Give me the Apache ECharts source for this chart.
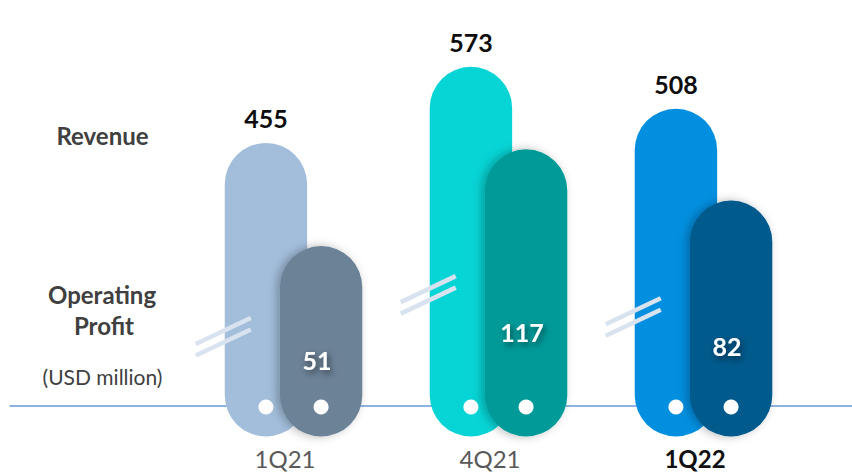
<!DOCTYPE html>
<html>
<head>
<meta charset="utf-8">
<script src="https://cdn.jsdelivr.net/npm/echarts@6/dist/echarts.min.js"></script>
<style>
  html, body { margin: 0; padding: 0; background: #ffffff; }
  #chart { width: 852px; height: 475px; }
</style>
</head>
<body>
<div id="chart"></div>
<script>
// Quarterly results, USD million
const quarters = ['1Q21', '4Q21', '1Q22'];
const revenue = [455, 573, 508];
const operatingProfit = [51, 117, 82];

// Palette per quarter: [revenue pill, operating-profit pill]
const revenuePalette = ['#a3bedb', '#07d4d5', '#028fe0'];
const profitPalette = ['#6c8297', '#069a98', '#015a8c'];

const FONT = 'Lato, "Open Sans", sans-serif';
const BAR_W = 0.402;     // pill width as share of the category band
const REV_SHIFT = -0.093; // revenue pill offset from band centre
const OP_SHIFT = 0.176;   // profit pill offset from band centre
const BASE_LIFT = 30.5;   // visible baseline sits this far above pill bottoms

function pillGeometry(params, api, shift) {
  const cs = params.coordSys;
  const idx = api.value(0);
  const val = api.value(1);
  const band = api.size([1, 0])[0];
  const pt = api.coord([idx, val]);
  const w = band * BAR_W;
  const cx = pt[0] + band * shift;
  const bottom = cs.y + cs.height;
  return { idx, val, band, w, cx, top: pt[1], bottom, base: bottom - BASE_LIFT };
}

function pillShape(g) {
  return {
    x: g.cx - g.w / 2,
    y: g.top,
    width: g.w,
    height: g.bottom - g.top,
    r: g.w / 2
  };
}

function renderRevenue(params, api) {
  const g = pillGeometry(params, api, REV_SHIFT);
  return {
    type: 'group',
    children: [
      {
        type: 'rect',
        shape: pillShape(g),
        style: { fill: revenuePalette[g.idx] }
      },
      {
        type: 'circle',
        shape: { cx: g.cx, cy: g.bottom - 29.5, r: 7.5 },
        style: { fill: '#ffffff' }
      },
      {
        type: 'text',
        style: {
          text: String(g.val),
          x: g.cx,
          y: g.top - 25,
          align: 'center',
          verticalAlign: 'middle',
          fill: '#0d0d0d',
          font: 'bold 25px ' + FONT
        }
      }
    ]
  };
}

function renderProfit(params, api) {
  const g = pillGeometry(params, api, OP_SHIFT);
  // axis-break marks across the left edge of the revenue pill
  const revLeft = g.cx - g.band * (OP_SHIFT - REV_SHIFT) - g.w / 2;
  const mid = g.top + 0.567 * (g.base - g.top);
  const slash = (m) => ({
    type: 'line',
    shape: { x1: revLeft - 29, y1: m + 13, x2: revLeft + 26, y2: m - 13 },
    style: { stroke: '#d9e3f0', lineWidth: 4.5 }
  });
  return {
    type: 'group',
    children: [
      {
        type: 'rect',
        shape: pillShape(g),
        style: {
          fill: profitPalette[g.idx],
          shadowColor: 'rgba(0,0,0,0.28)',
          shadowBlur: 10,
          shadowOffsetX: -3,
          shadowOffsetY: 0
        }
      },
      {
        type: 'circle',
        shape: { cx: g.cx, cy: g.bottom - 29.5, r: 7.5 },
        style: { fill: '#ffffff' }
      },
      {
        type: 'text',
        style: {
          text: String(g.val),
          x: g.cx - 4,
          y: g.top + 0.71 * (g.base - g.top),
          align: 'center',
          verticalAlign: 'middle',
          fill: '#ffffff',
          font: 'bold 25px ' + FONT,
          textShadowColor: 'rgba(0,0,0,0.55)',
          textShadowBlur: 6,
          textShadowOffsetX: 2,
          textShadowOffsetY: 3
        }
      },
      slash(mid - 5.75),
      slash(mid + 5.75)
    ]
  };
}

const chart = echarts.init(document.getElementById('chart'), null, { renderer: 'svg' });

chart.setOption({
  animation: false,
  backgroundColor: '#ffffff',
  grid: { left: 182.5, right: 54.5, top: 36.5, bottom: 38.5, outerBoundsMode: 'none' },
  xAxis: {
    type: 'category',
    data: quarters,
    axisLine: { show: false },
    axisTick: { show: false },
    splitLine: { show: false },
    axisLabel: {
      margin: 10,
      fontFamily: FONT,
      fontSize: 24,
      color: '#595959',
      formatter: (v, i) => (i === quarters.length - 1 ? '{hl|' + v + '}' : v),
      rich: {
        hl: { fontFamily: FONT, fontSize: 24, fontWeight: 'bold', color: '#111111' }
      }
    }
  },
  yAxis: [
    { type: 'value', min: 0, max: 620, show: false, splitLine: { show: false } },
    { type: 'value', min: -79, max: 194, show: false, splitLine: { show: false } }
  ],
  graphic: [
    {
      type: 'line',
      z: -10,
      shape: { x1: 9.5, y1: 406, x2: 852, y2: 406 },
      style: { stroke: '#8db4e0', lineWidth: 2 }
    },
    {
      type: 'text', x: 102.5, y: 135,
      style: { text: 'Revenue', align: 'center', verticalAlign: 'middle', fill: '#404040', font: 'bold 24px ' + FONT }
    },
    {
      type: 'text', x: 102, y: 294,
      style: { text: 'Operating', align: 'center', verticalAlign: 'middle', fill: '#404040', font: 'bold 24px ' + FONT }
    },
    {
      type: 'text', x: 104, y: 325,
      style: { text: 'Profit', align: 'center', verticalAlign: 'middle', fill: '#404040', font: 'bold 24px ' + FONT }
    },
    {
      type: 'text', x: 102.5, y: 376,
      style: { text: '(USD million)', align: 'center', verticalAlign: 'middle', fill: '#404040', font: '21px ' + FONT }
    }
  ],
  series: [
    {
      name: 'Revenue',
      type: 'custom',
      xAxisIndex: 0,
      yAxisIndex: 0,
      z: 2,
      renderItem: renderRevenue,
      data: quarters.map((q, i) => [i, revenue[i]])
    },
    {
      name: 'Operating Profit',
      type: 'custom',
      xAxisIndex: 0,
      yAxisIndex: 1,
      z: 3,
      renderItem: renderProfit,
      data: quarters.map((q, i) => [i, operatingProfit[i]])
    }
  ]
});
</script>
</body>
</html>
